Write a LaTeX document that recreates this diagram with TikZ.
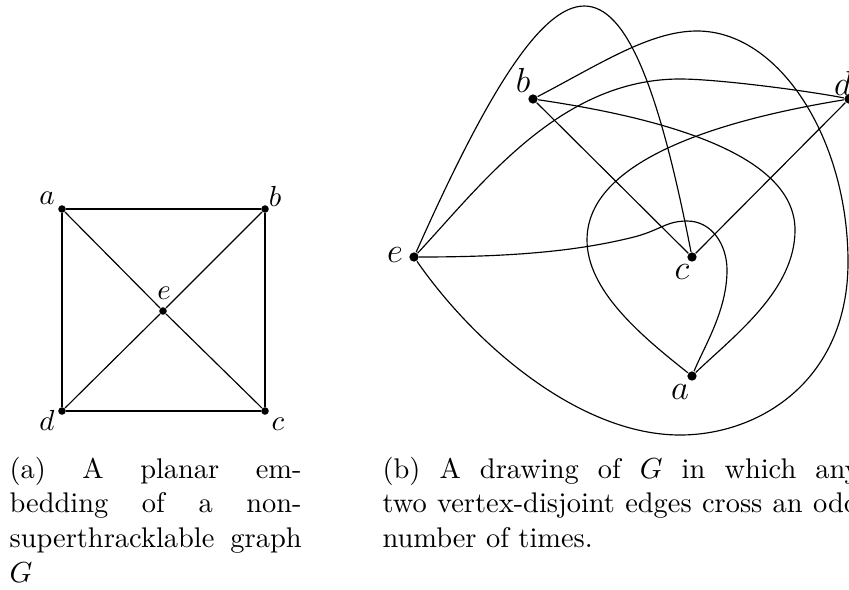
\documentclass[tikz,border=0pt]{standalone}
\begin{document}
\begin{tikzpicture}[x=0.3448pt,y=-0.3448pt,
  vl/.style={circle,fill=black,inner sep=0pt,minimum size=2.6pt},
  vr/.style={circle,fill=black,inner sep=0pt,minimum size=3.2pt},
  labl/.style={inner sep=0pt,font=\fontsize{10}{12}\selectfont},
  labr/.style={inner sep=0pt,font=\fontsize{12}{14}\selectfont},
  edgeline/.style={line width=0.4pt,black},
  capline/.style={inner sep=0pt,anchor=base west,font=\fontsize{9.8}{12}\selectfont}]
\useasboundingbox (0,0) rectangle (849,589);
\clip (0,0) rectangle (849,589);

% ---------- left graph ----------
\node[vl] (la) at (62,209) {};
\node[vl] (lb) at (265,209) {};
\node[vl] (lc) at (265,411) {};
\node[vl] (ld) at (62,411) {};
\node[vl] (le) at (163,311) {};
\node[labl] (lla) at (47,198) {$a$};
\node[labl] (llb) at (275,196) {$b$};
\node[labl] (lle) at (164,293) {$e$};
\node[labl] (lld) at (47,420) {$d$};
\node[labl] (llc) at (278,424) {$c$};
\draw[edgeline] (la) -- (lb) -- (lc) -- (ld) -- (la);
\draw[edgeline] (la) -- (le) -- (lc);
\draw[edgeline] (lb) -- (le) -- (ld);

% ---------- right graph ----------
\node[vr] (ra) at (692,376) {};
\node[vr] (rb) at (533,99) {};
\node[vr] (rc) at (692,257) {};
\node[vr] (rd) at (849,99) {};
\node[vr] (re) at (414,257) {};
\node[labr] (rla) at (680,392) {$a$};
\node[labr] (rlb) at (523,80) {$b$};
\node[labr] (rlc) at (682,272) {$c$};
\node[labr] (rld) at (843,83) {$d$};
\node[labr] (rle) at (395,255) {$e$};

% straight edges
\draw[edgeline] (rb) -- (rc);
\draw[edgeline] (rd) -- (rc);
% e--c tall arc
\draw[edgeline] (re) .. controls (562,-76) and (627,-76) .. (rc);
% b--e outer loop
\draw[edgeline] (rb) .. controls (600,64) and (650,31) .. (697,31)
  .. controls (780,31) and (848,140) .. (848,262)
  .. controls (848,380) and (760,435) .. (680,435)
  .. controls (580,435) and (475,345) .. (re);
% b--a
\draw[edgeline] (rb) .. controls (683,121) and (795,160) .. (795,230)
  .. controls (795,290) and (735,335) .. (ra);
% d--a
\draw[edgeline] (rd) .. controls (720,120) and (587,160) .. (587,240)
  .. controls (587,290) and (640,335) .. (ra);
% d--e
\draw[edgeline] (rd) .. controls (815,92) and (720,79) .. (680,79)
  .. controls (560,79) and (482,184) .. (re);
% e--a with bump
\draw[edgeline] (re) .. controls (520,257) and (580,250) .. (630,238)
  .. controls (660,231) and (665,221) .. (687,221)
  .. controls (712,221) and (727,245) .. (727,270)
  .. controls (727,310) and (705,345) .. (ra);

% ---------- captions ----------
\node[capline] (ca1) at (9,478) {\makebox[100.7pt][s]{(a) A planar em-}};
\node[capline] (ca2) at (9,512.8) {\makebox[100.7pt][s]{bedding of a non-}};
\node[capline] (ca3) at (9,547.6) {\makebox[100.7pt][s]{superthracklable graph}};
\node[capline] (ca4) at (9,582.4) {$G$};
\node[capline] (cb1) at (382,478) {\makebox[164.5pt][s]{(b) A drawing of $G$ in which any}};
\node[capline] (cb2) at (382,512.8) {\makebox[164.5pt][s]{two vertex-disjoint edges cross an odd}};
\node[capline] (cb3) at (382,547.6) {number of times.};
\end{tikzpicture}
\end{document}
